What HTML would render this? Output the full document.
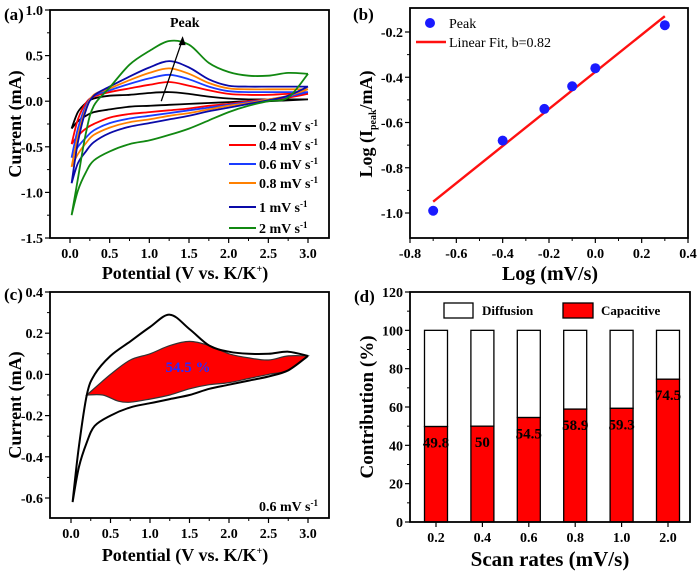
<!DOCTYPE html>
<html><head><meta charset="utf-8"><style>
html,body{margin:0;padding:0;background:#fff;}
svg{display:block;font-family:"Liberation Serif",serif;font-weight:bold;}
</style></head><body>
<svg id="fig" width="700" height="571" viewBox="0 0 700 571"></svg>
<script>
// ===== Panel (a) data =====
const aPot = [0.02,0.1,0.2,0.3,0.5,0.75,1.0,1.25,1.5,1.75,2.0,2.25,2.5,2.75,3.0];
const aRates = ["0.2","0.4","0.6","0.8","1","2"];
const aColors = ["#000000","#ff0000","#1a3cff","#ff8000","#0a0aa8","#118811"];
const aUp02 = [-0.3,-0.12,-0.02,0.03,0.06,0.07,0.09,0.1,0.08,0.05,0.03,0.02,0.02,0.02,0.02];
const aLo02 = [-0.3,-0.22,-0.16,-0.12,-0.09,-0.06,-0.05,-0.04,-0.03,-0.02,-0.01,0,0,0.01,0.02];
const aUp04 = [-0.47,-0.2,-0.02,0.05,0.1,0.14,0.18,0.21,0.17,0.12,0.08,0.07,0.07,0.08,0.08];
const aLo04 = [-0.47,-0.38,-0.3,-0.25,-0.18,-0.14,-0.12,-0.1,-0.08,-0.05,-0.03,0,0.02,0.04,0.08];
const aUp06 = [-0.62,-0.3,-0.05,0.06,0.12,0.19,0.25,0.29,0.24,0.16,0.11,0.1,0.1,0.1,0.1];
const aLo06 = [-0.62,-0.5,-0.4,-0.32,-0.24,-0.19,-0.16,-0.13,-0.1,-0.07,-0.04,-0.01,0.02,0.05,0.1];
const aUp08 = [-0.72,-0.38,-0.08,0.07,0.14,0.23,0.31,0.36,0.3,0.2,0.14,0.13,0.13,0.13,0.13];
const aLo08 = [-0.72,-0.58,-0.46,-0.37,-0.29,-0.23,-0.2,-0.16,-0.13,-0.09,-0.05,-0.02,0.02,0.06,0.13];
const aUp1 = [-0.9,-0.45,-0.1,0.06,0.16,0.27,0.37,0.44,0.37,0.24,0.17,0.16,0.16,0.16,0.16];
const aLo1 = [-0.9,-0.68,-0.55,-0.45,-0.35,-0.28,-0.24,-0.2,-0.16,-0.11,-0.07,-0.03,0.01,0.06,0.16];
const aUp2 = [-1.25,-0.85,-0.35,-0.05,0.15,0.4,0.55,0.66,0.62,0.42,0.32,0.28,0.28,0.31,0.3];
const aLo2 = [-1.25,-0.98,-0.78,-0.65,-0.55,-0.47,-0.43,-0.37,-0.3,-0.21,-0.12,-0.05,0.0,0.04,0.3];
const aXTicks = [0,0.5,1,1.5,2,2.5,3];
const aXTickLabels = ["0.0","0.5","1.0","1.5","2.0","2.5","3.0"];
const aYTicks = [1,0.5,0,-0.5,-1,-1.5];
const aYTickLabels = ["1.0","0.5","0.0","-0.5","-1.0","-1.5"];
// ===== Panel (b) data =====
const bLogRate = [-0.7,-0.4,-0.22,-0.1,0,0.3];
const bLogPeak = [-0.99,-0.68,-0.54,-0.44,-0.36,-0.17];
const bFitX = [-0.7,0.3];
const bFitY = [-0.95,-0.13];
const bXTicks = [-0.8,-0.6,-0.4,-0.2,0,0.2,0.4];
const bXTickLabels = ["-0.8","-0.6","-0.4","-0.2","0.0","0.2","0.4"];
const bYTicks = [-0.2,-0.4,-0.6,-0.8,-1.0];
const bYTickLabels = ["-0.2","-0.4","-0.6","-0.8","-1.0"];
// ===== Panel (c) data =====
const cPot = [0.02,0.1,0.2,0.3,0.5,0.75,1.0,1.25,1.5,1.75,2.0,2.25,2.5,2.75,3.0];
const cUp = [-0.62,-0.35,-0.1,0.0,0.09,0.16,0.23,0.29,0.22,0.14,0.11,0.1,0.1,0.11,0.09];
const cLo = [-0.62,-0.45,-0.33,-0.25,-0.2,-0.16,-0.14,-0.12,-0.1,-0.07,-0.05,-0.03,-0.01,0.02,0.09];
const cCapPotU = [0.2,0.5,0.75,1.0,1.25,1.5,1.75,2.0,2.25,2.5,2.75,3.0];
const cCapUp = [-0.1,0.0,0.07,0.1,0.14,0.16,0.14,0.1,0.08,0.07,0.09,0.09];
const cCapPotL = [0.2,0.4,0.6,0.75,1.0,1.25,1.5,1.75,2.0,2.25,2.5,2.75,3.0];
const cCapLo = [-0.1,-0.1,-0.13,-0.135,-0.12,-0.1,-0.07,-0.05,-0.04,-0.02,0.0,0.02,0.09];
const cYTicks = [0.4,0.2,0,-0.2,-0.4,-0.6];
const cYTickLabels = ["0.4","0.2","0.0","-0.2","-0.4","-0.6"];
// ===== Panel (d) data =====
const dCats = ["0.2","0.4","0.6","0.8","1.0","2.0"];
const dCap = [49.8,50,54.5,58.9,59.3,74.5];
const dCapLabels = ["49.8","50","54.5","58.9","59.3","74.5"];
const dYTicks = [0,20,40,60,80,100,120];

const NS="http://www.w3.org/2000/svg";
const svg=document.getElementById('fig');
function el(tag,attrs,parent,text){const e=document.createElementNS(NS,tag);for(const k in attrs)e.setAttribute(k,attrs[k]);if(text!==undefined)e.textContent=text;(parent||svg).appendChild(e);return e;}
function lin(d0,d1,r0,r1){return v=>r0+(v-d0)*(r1-r0)/(d1-d0);}
function smooth(pts){let d="M"+pts[0][0].toFixed(1)+","+pts[0][1].toFixed(1);for(let i=0;i<pts.length-1;i++){const p0=pts[Math.max(0,i-1)],p1=pts[i],p2=pts[i+1],p3=pts[Math.min(pts.length-1,i+2)];const c1=[p1[0]+(p2[0]-p0[0])/6,p1[1]+(p2[1]-p0[1])/6],c2=[p2[0]-(p3[0]-p1[0])/6,p2[1]-(p3[1]-p1[1])/6];d+=" C"+c1[0].toFixed(1)+","+c1[1].toFixed(1)+" "+c2[0].toFixed(1)+","+c2[1].toFixed(1)+" "+p2[0].toFixed(1)+","+p2[1].toFixed(1);}return d;}
function frame(g,x0,y0,x1,y1){const r=el('rect',{x:x0,y:y0,width:x1-x0,height:y1-y0,fill:'none',stroke:'#000','stroke-width':1.8},g);}
function yAxis(g,sy,x0,ticks,labels){
  const ga=el('g',{},g);
  ticks.forEach((v,i)=>{const y=sy(v);el('line',{x1:x0-5,x2:x0,y1:y,y2:y,stroke:'#000','stroke-width':1.2},ga);
    const t=el('text',{x:x0-7,y:y+5,'text-anchor':'end','font-size':14},ga,labels[i]);
    if(i<ticks.length-1){const ym=sy((v+ticks[i+1])/2);el('line',{x1:x0-3,x2:x0,y1:ym,y2:ym,stroke:'#000','stroke-width':1},ga);}});
}
function xAxis(g,sx,y0,ticks,labels,minor){
  const ga=el('g',{},g);
  ticks.forEach((v,i)=>{const x=sx(v);el('line',{x1:x,x2:x,y1:y0,y2:y0+5,stroke:'#000','stroke-width':1.2},ga);
    const t=el('text',{x:x,y:y0+20,'text-anchor':'middle','font-size':14},ga,labels[i]);
    if(minor&&i<ticks.length-1){const xm=sx((v+ticks[i+1])/2);el('line',{x1:xm,x2:xm,y1:y0,y2:y0+3,stroke:'#000','stroke-width':1},ga);}});
}
function label(g,txt,x,y,name){const t=el('text',{x:x,y:y,'font-size':17},g,txt);}

// ===== Panel (a) =====
(function(){
  const g=el('g',{});
  const sx=lin(0,3,70,308), sy=lin(1,-1.5,10,238);
  const ups=[aUp02,aUp04,aUp06,aUp08,aUp1,aUp2], los=[aLo02,aLo04,aLo06,aLo08,aLo1,aLo2];
  ups.forEach((u,k)=>{
    const up=aPot.map((p,i)=>[sx(p),sy(u[i])]);
    const lo=aPot.map((p,i)=>[sx(p),sy(los[k][i])]);
    const c=el('path',{d:smooth(up)+" "+smooth(lo),fill:'none',stroke:aColors[k],'stroke-width':1.8},g);
    
  });
  frame(g,50,10,329,238);
  yAxis(g,sy,50,aYTicks,aYTickLabels);
  xAxis(g,sx,238,aXTicks,aXTickLabels,true);
  const ar=el('line',{x1:sx(1.15),y1:sy(0.0),x2:sx(1.42),y2:sy(0.68),stroke:'#000','stroke-width':1.3},g);
  const hx=sx(1.42),hy=sy(0.68);
  el('polygon',{points:`${hx},${hy-3} ${hx-4},${hy+6} ${hx+3},${hy+6}`,fill:'#000'},g);
  const pk=el('text',{x:170,y:27,'font-size':14},g,'Peak');
  const ly=[126,145,164,183,207,228];
  aRates.forEach((r,k)=>{const le=el('g',{},g);
    el('line',{x1:229,x2:256,y1:ly[k],y2:ly[k],stroke:aColors[k],'stroke-width':2},le);
    const t=el('text',{x:259,y:ly[k]+5,'font-size':14},le);t.textContent=r+' mV s';el('tspan',{dy:-5,'font-size':9},t,'-1');});
  const yt=el('text',{transform:'translate(21,124) rotate(-90)','text-anchor':'middle','font-size':18},g,'Current (mA)');
  const xt=el('text',{x:185,y:279,'text-anchor':'middle','font-size':18},g);xt.textContent='Potential (V vs. K/K';el('tspan',{dy:-7,'font-size':10},xt,'+');el('tspan',{dy:7},xt,')');
  label(g,'(a)',4,20,'panel-label-a');
})();

// ===== Panel (b) =====
(function(){
  const g=el('g',{});
  const sx=lin(-0.8,0.4,410,688), sy=lin(-0.2,-1.0,32,213);
  frame(g,410,8,688,238);
  yAxis(g,sy,410,bYTicks,bYTickLabels);
  xAxis(g,sx,238,bXTicks,bXTickLabels,true);
  const f=el('line',{x1:sx(bFitX[0]),y1:sy(bFitY[0]),x2:sx(bFitX[1]),y2:sy(bFitY[1]),stroke:'#ff1010','stroke-width':2.4},g);
  bLogRate.forEach((v,i)=>{const c=el('circle',{cx:sx(v),cy:sy(bLogPeak[i]),r:5,fill:'#1a1aff'},g);});
  const l1=el('g',{},g);
  el('circle',{cx:430,cy:23,r:5,fill:'#1a1aff'},l1);el('text',{x:449,y:28,'font-size':14,'font-weight':'normal'},l1,'Peak');
  const l2=el('g',{},g);
  el('line',{x1:416,x2:446,y1:42,y2:42,stroke:'#ff1010','stroke-width':2.4},l2);el('text',{x:449,y:47,'font-size':14,'font-weight':'normal'},l2,'Linear Fit, b=0.82');
  const yt=el('text',{transform:'translate(372,124) rotate(-90)','text-anchor':'middle','font-size':18},g);yt.textContent='Log (I';el('tspan',{dy:4,'font-size':10},yt,'peak');el('tspan',{dy:-4},yt,'/mA)');
  const xt=el('text',{x:550,y:280,'text-anchor':'middle','font-size':20},g,'Log (mV/s)');
  label(g,'(b)',353,20,'panel-label-b');
})();

// ===== Panel (c) =====
(function(){
  const g=el('g',{});
  const sx=lin(0,3,71,308), sy=lin(0.4,-0.6,292,498);
  const up=cCapPotU.map((p,i)=>[sx(p),sy(cCapUp[i])]);
  const lo=cCapPotL.map((p,i)=>[sx(p),sy(cCapLo[i])]).reverse();
  const fp=el('path',{d:smooth(up)+" L"+smooth(lo).slice(1)+" Z",fill:'#ff0000',stroke:'#333','stroke-width':1.2},g);
  const cu=cPot.map((p,i)=>[sx(p),sy(cUp[i])]), cl=cPot.map((p,i)=>[sx(p),sy(cLo[i])]);
  const cv=el('path',{d:smooth(cu)+" "+smooth(cl),fill:'none',stroke:'#000','stroke-width':2},g);
  frame(g,50,292,329,518);
  yAxis(g,sy,50,cYTicks,cYTickLabels);
  xAxis(g,sx,518,aXTicks,aXTickLabels,true);
  const pc=el('text',{x:188,y:372,'text-anchor':'middle','font-size':15,fill:'#2a2aff'},g,'54.5 %');
  const sr=el('text',{x:259,y:511,'font-size':14},g);sr.textContent='0.6 mV s';el('tspan',{dy:-5,'font-size':9},sr,'-1');
  const yt=el('text',{transform:'translate(21,405) rotate(-90)','text-anchor':'middle','font-size':18},g,'Current (mA)');
  const xt=el('text',{x:185,y:561,'text-anchor':'middle','font-size':18},g);xt.textContent='Potential (V vs. K/K';el('tspan',{dy:-7,'font-size':10},xt,'+');el('tspan',{dy:7},xt,')');
  label(g,'(c)',4,300,'panel-label-c');
})();

// ===== Panel (d) =====
(function(){
  const g=el('g',{});
  const sy=lin(0,120,522,292);
  const bx=i=>436+i*46.4, bw=23;
  dCats.forEach((c,i)=>{
    const x=bx(i)-bw/2;
    const d=el('rect',{x:x,y:sy(100),width:bw,height:sy(dCap[i])-sy(100),fill:'#fff',stroke:'#000','stroke-width':1.3},g);
    const r=el('rect',{x:x,y:sy(dCap[i]),width:bw,height:sy(0)-sy(dCap[i]),fill:'#ff0000',stroke:'#000','stroke-width':1.3},g);
    const t=el('text',{x:bx(i),y:sy(dCap[i])+21,'text-anchor':'middle','font-size':15},g,dCapLabels[i]);
  });
  frame(g,410,292,690,522);
  yAxis(g,sy,410,dYTicks.slice().reverse(),dYTicks.slice().reverse().map(String));
  const ga=el('g',{},g);
  dCats.forEach((c,i)=>{el('line',{x1:bx(i),x2:bx(i),y1:522,y2:527,stroke:'#000','stroke-width':1.2},ga);const t=el('text',{x:bx(i),y:542,'text-anchor':'middle','font-size':14},ga,c);});
  const l1=el('g',{},g);
  el('rect',{x:444,y:303,width:29,height:15,fill:'#fff',stroke:'#000','stroke-width':1.3},l1);el('text',{x:482,y:315,'font-size':13},l1,'Diffusion');
  const l2=el('g',{},g);
  el('rect',{x:563,y:303,width:30,height:15,fill:'#ff0000',stroke:'#000','stroke-width':1.3},l2);el('text',{x:601,y:315,'font-size':13},l2,'Capacitive');
  const yt=el('text',{transform:'translate(373,407) rotate(-90)','text-anchor':'middle','font-size':19},g,'Contribution (%)');
  const xt=el('text',{x:550,y:566,'text-anchor':'middle','font-size':21},g,'Scan rates (mV/s)');
  label(g,'(d)',354,302,'panel-label-d');
})();
</script>
</body></html>
